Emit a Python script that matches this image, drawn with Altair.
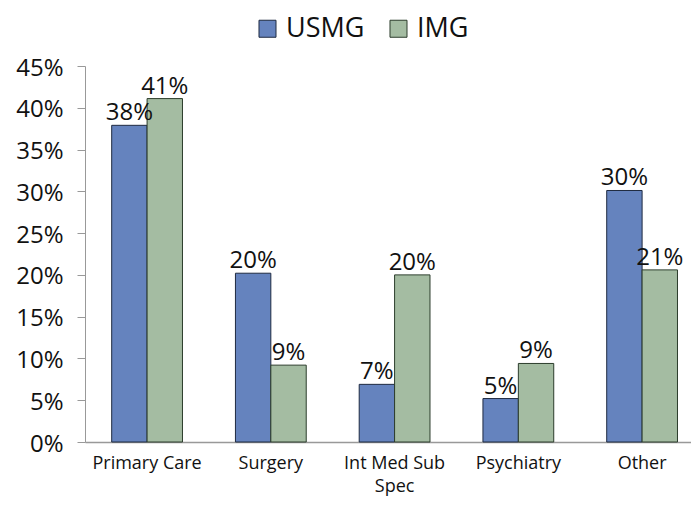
import altair as alt
import pandas as pd

categories = ["Primary Care", "Surgery", "Int Med Sub Spec", "Psychiatry", "Other"]
groups = ["USMG", "IMG"]
usmg = [0.379, 0.202, 0.069, 0.052, 0.301]
img = [0.411, 0.092, 0.200, 0.094, 0.206]
y_ticks = [0, 0.05, 0.10, 0.15, 0.20, 0.25, 0.30, 0.35, 0.40, 0.45]
colors = ["#6583BE", "#A4BCA2"]
strokes = ["#1f2a40", "#2c3d2c"]

rows = []
for i, c in enumerate(categories):
    rows.append({"category": c, "group": "USMG", "value": usmg[i]})
    rows.append({"category": c, "group": "IMG", "value": img[i]})
df = pd.DataFrame(rows)

FONT = "Open Sans"

base = alt.Chart(df).encode(
    x=alt.X(
        "category:N",
        sort=categories,
        title=None,
        scale=alt.Scale(paddingInner=0.428, paddingOuter=0.1624, align=0.664),
        axis=alt.Axis(
            labelAngle=0,
            ticks=False,
            labelFontSize=18,
            labelPadding=12,
            labelColor="#111",
            labelFont=FONT,
            labelLineHeight=23.5,
            domainColor="#999",
            domainWidth=1.5,
            labelExpr="datum.label == 'Int Med Sub Spec' ? ['Int Med Sub', 'Spec'] : datum.label",
        ),
    ),
    xOffset=alt.XOffset("group:N", sort=groups, scale=alt.Scale(paddingInner=0, paddingOuter=0)),
    y=alt.Y(
        "value:Q",
        title=None,
        scale=alt.Scale(domain=[0, 0.45], nice=False, zero=True),
        axis=alt.Axis(
            values=y_ticks,
            format=".0%",
            grid=False,
            tickSize=8,
            tickColor="#999",
            domainColor="#999",
            labelFontSize=24,
            labelPadding=14,
            labelColor="#111",
            labelFont=FONT,
            labelBaseline="middle",
            labelOffset=2,
        ),
    ),
)

bars = base.mark_bar(strokeWidth=1).encode(
    color=alt.Color(
        "group:N",
        sort=groups,
        scale=alt.Scale(domain=groups, range=colors),
        legend=alt.Legend(
            title=None,
            orient="none",
            legendX=169,
            legendY=-51,
            direction="horizontal",
            symbolType="square",
            symbolSize=290,
            symbolStrokeColor="#2b2b2b",
            symbolStrokeWidth=1,
            symbolOpacity=1,
            labelFontSize=27,
            labelFont=FONT,
            labelColor="#111",
            labelLimit=300,
            columnPadding=20,
            labelOffset=5,
        ),
    ),
    stroke=alt.Stroke("group:N", sort=groups, scale=alt.Scale(domain=groups, range=strokes), legend=None),
)

labels = base.mark_text(baseline="bottom", dy=0, fontSize=24, font=FONT, color="#111").encode(
    text=alt.Text("value:Q", format=".0%")
)

chart = (
    alt.layer(bars, labels)
    .properties(
        width=606,
        height=376,
        autosize="none",
        padding={"left": 77, "top": 58, "right": 0, "bottom": 55},
    )
    .configure_view(stroke=None)
)

chart.save("out.html", embed_options={"renderer": "svg", "actions": False})
